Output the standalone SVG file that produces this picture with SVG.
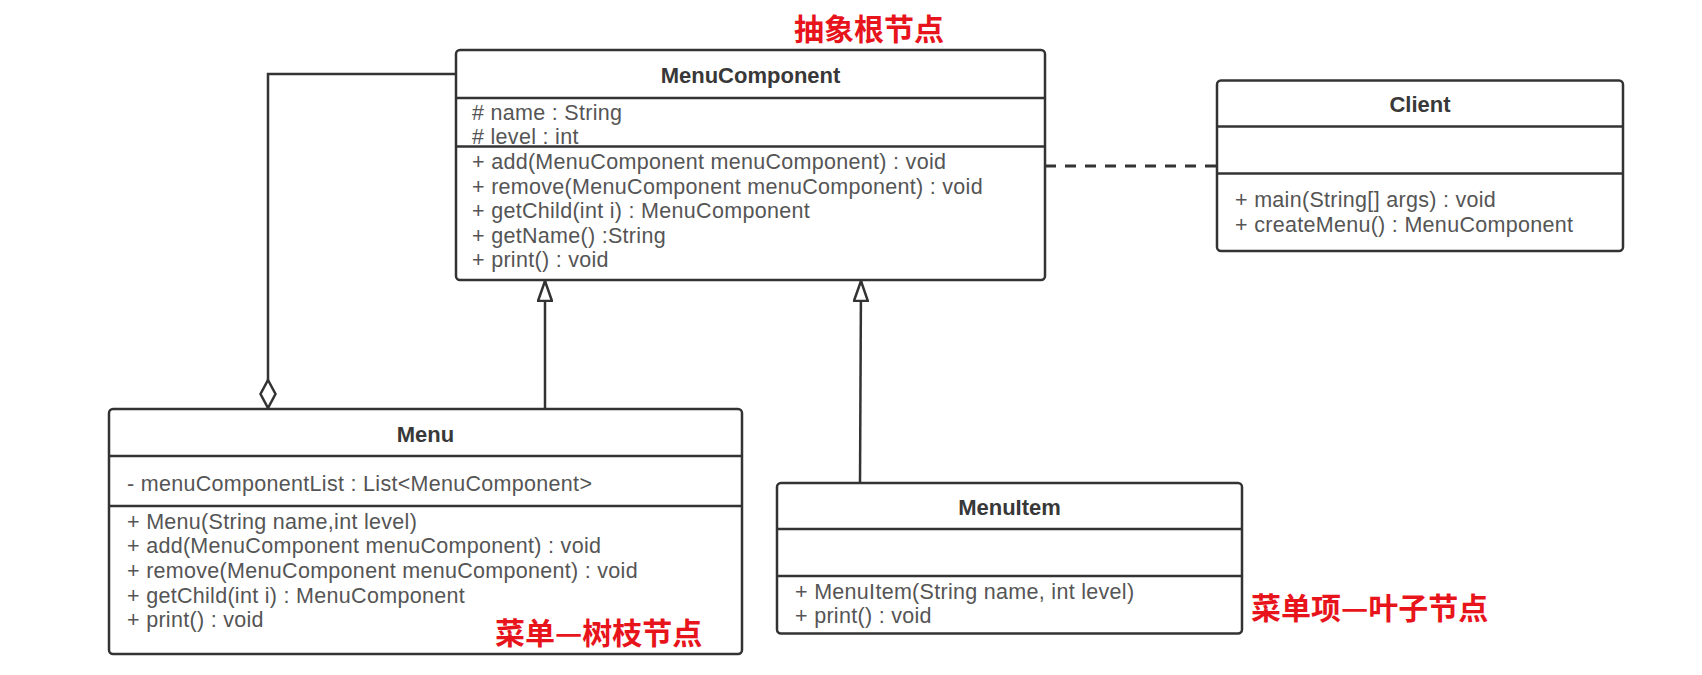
<svg xmlns="http://www.w3.org/2000/svg" width="1702" height="675" viewBox="0 0 1702 675">
<style>
.box{fill:#ffffff;stroke:#333333;stroke-width:2.5}
.div{stroke:#333333;stroke-width:2.5}
.title{font-family:"Liberation Sans",Arial,sans-serif;font-weight:bold;font-size:22px;fill:#383838;text-anchor:middle}
.txt{font-family:"Liberation Sans",Arial,sans-serif;font-size:21.5px;letter-spacing:0.3px;fill:#555555}
.note{font-family:"Noto Sans CJK SC","Noto Sans",sans-serif;font-weight:bold;font-size:30px;fill:#e8141c}
.edge{fill:none;stroke:#333333;stroke-width:2.5}
.dash{stroke-width:3;stroke-dasharray:11 9}
</style>
<defs>
<marker id="tri" markerUnits="userSpaceOnUse" viewBox="0 0 22 16" refX="21" refY="8" markerWidth="22" markerHeight="16" orient="auto">
<path d="M1,1 L21,8 L1,15 Z" fill="#ffffff" stroke="#333333" stroke-width="2.5"/>
</marker>
<marker id="dia" markerUnits="userSpaceOnUse" viewBox="0 0 30 18" refX="29" refY="9" markerWidth="30" markerHeight="18" orient="auto">
<path d="M1,9 L15,1.5 L29,9 L15,16.5 Z" fill="#ffffff" stroke="#333333" stroke-width="2.5"/>
</marker>
</defs>

<g id="connectors">
<path class="edge" d="M456,74 L268,74 L268,408" marker-end="url(#dia)"/>
<path class="edge" d="M545,409 L545,281" marker-end="url(#tri)"/>
<path class="edge" d="M860,483 L861,281" marker-end="url(#tri)"/>
<path class="edge dash" d="M1045,166 L1217,166"/>
</g>

<g id="MenuComponent">
<rect class="box" x="456" y="50" width="589" height="230" rx="4"/>
<line class="div" x1="456" y1="98" x2="1045" y2="98"/>
<line class="div" x1="456" y1="146.5" x2="1045" y2="146.5"/>
<text class="title" x="750.5" y="83">MenuComponent</text>
<text class="txt" x="472" y="120"># name : String</text>
<text class="txt" x="472" y="144"># level : int</text>
<text class="txt" x="472" y="169">+ add(MenuComponent menuComponent) : void</text>
<text class="txt" x="472" y="193.5">+ remove(MenuComponent menuComponent) : void</text>
<text class="txt" x="472" y="218">+ getChild(int i) : MenuComponent</text>
<text class="txt" x="472" y="242.5">+ getName() :String</text>
<text class="txt" x="472" y="267">+ print() : void</text>
</g>

<g id="Client">
<rect class="box" x="1217" y="80.5" width="406" height="170.5" rx="4"/>
<line class="div" x1="1217" y1="126.5" x2="1623" y2="126.5"/>
<line class="div" x1="1217" y1="173.5" x2="1623" y2="173.5"/>
<text class="title" x="1420" y="112">Client</text>
<text class="txt" x="1235" y="207">+ main(String[] args) : void</text>
<text class="txt" x="1235" y="231.5">+ createMenu() : MenuComponent</text>
</g>

<g id="Menu">
<rect class="box" x="109" y="409" width="633" height="245" rx="4"/>
<line class="div" x1="109" y1="456" x2="742" y2="456"/>
<line class="div" x1="109" y1="506" x2="742" y2="506"/>
<text class="title" x="425.5" y="442">Menu</text>
<text class="txt" x="127" y="490.5">- menuComponentList : List&lt;MenuComponent&gt;</text>
<text class="txt" x="127" y="528.5">+ Menu(String name,int level)</text>
<text class="txt" x="127" y="553">+ add(MenuComponent menuComponent) : void</text>
<text class="txt" x="127" y="578">+ remove(MenuComponent menuComponent) : void</text>
<text class="txt" x="127" y="602.5">+ getChild(int i) : MenuComponent</text>
<text class="txt" x="127" y="627">+ print() : void</text>
</g>

<g id="MenuItem">
<rect class="box" x="777" y="483" width="465" height="150.5" rx="4"/>
<line class="div" x1="777" y1="529" x2="1242" y2="529"/>
<line class="div" x1="777" y1="576" x2="1242" y2="576"/>
<text class="title" x="1009.5" y="515">MenuItem</text>
<text class="txt" x="795" y="598.5">+ MenuItem(String name, int level)</text>
<text class="txt" x="795" y="623">+ print() : void</text>
</g>

<g id="notes">
<text class="note" x="794" y="40">抽象根节点</text>
<text class="note" x="495" y="644">菜单—树枝节点</text>
<text class="note" x="1251" y="619">菜单项—叶子节点</text>
</g>
</svg>
